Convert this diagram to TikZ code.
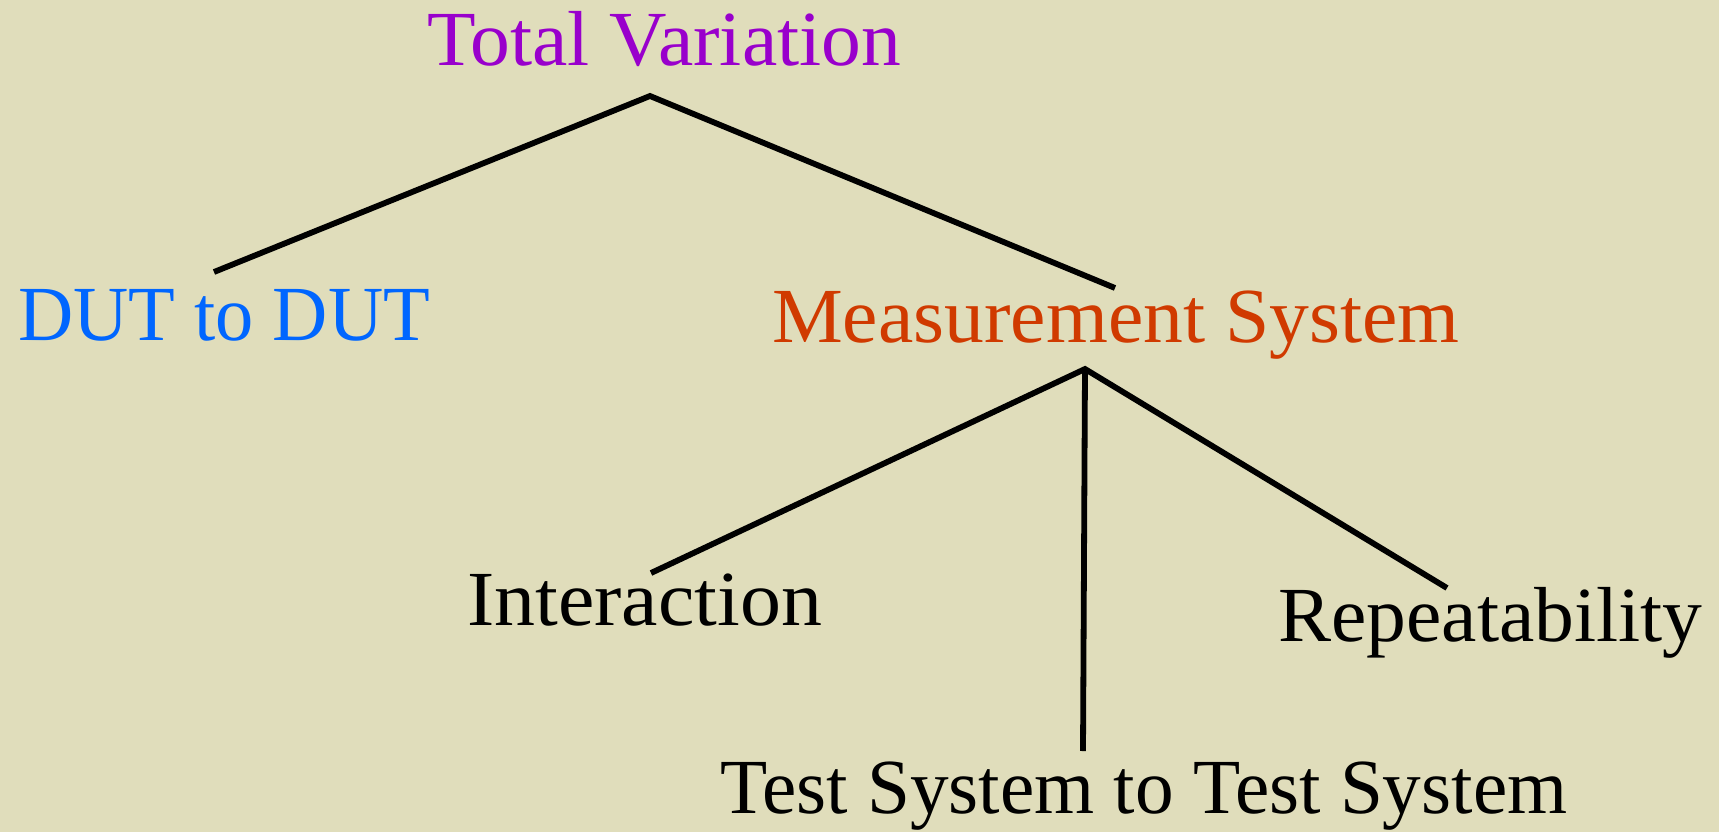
\documentclass[tikz,border=0pt]{standalone}
\usepackage{fontspec}
\setmainfont{Liberation Serif}
\definecolor{bg}{RGB}{224,221,187}
\definecolor{tvpurple}{RGB}{153,0,204}
\definecolor{dutblue}{RGB}{0,102,255}
\definecolor{msred}{RGB}{208,58,0}
\begin{document}
\begin{tikzpicture}[x=1pt,y=-1pt,
  lbl/.style={inner sep=0pt,anchor=base west,font=\fontsize{78}{80}\selectfont},
  conn/.style={line width=5.8pt,black,line cap=butt,line join=miter}]
\fill[bg] (0,0) rectangle (1719,832);
\useasboundingbox (0,0) rectangle (1719,832);
\node[lbl,text=tvpurple] (tv) at (427,66) {\scalebox{1.02}[1]{Total Variation}};
\node[lbl,text=dutblue] (dut) at (18,340) {\scalebox{0.98}[1]{DUT to DUT}};
\node[lbl,text=msred] (ms) at (772,342) {\scalebox{1.02}[1]{Measurement System}};
\node[lbl] (inter) at (467,625) {\scalebox{1.05}[1]{Interaction}};
\node[lbl] (rep) at (1278,641) {\scalebox{1.02}[1]{Repeatability}};
\node[lbl] (ts) at (720,813) {\scalebox{0.99}[1]{Test System to Test System}};
\coordinate (apexA) at (650,96);
\coordinate (dutEnd) at (214,272);
\coordinate (msEnd) at (1115,288);
\coordinate (apexB) at (1085,369);
\coordinate (interEnd) at (651,573);
\coordinate (tsEnd) at (1083,751);
\coordinate (repEnd) at (1447,588);
\draw[conn] (dutEnd) -- (apexA) -- (msEnd);
\draw[conn] (interEnd) -- (apexB) -- (repEnd);
\draw[conn] (apexB) -- (tsEnd);
\end{tikzpicture}
\end{document}
